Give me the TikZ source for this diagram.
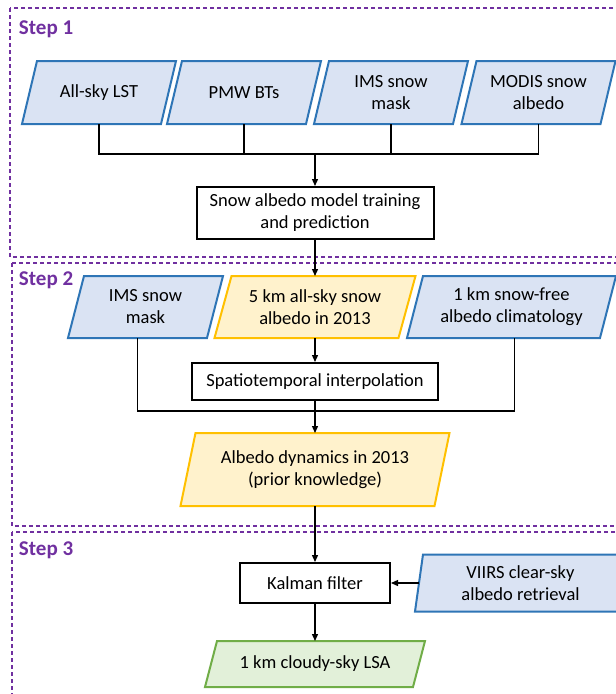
\documentclass[tikz,border=0pt]{standalone}
\usepackage{fontspec}
\setmainfont{Carlito}
\usetikzlibrary{arrows.meta}
\definecolor{stepviolet}{HTML}{7030A0}
\definecolor{inblue}{HTML}{2E75B6}
\definecolor{infill}{HTML}{DAE3F3}
\definecolor{midgold}{HTML}{FFC000}
\definecolor{midfill}{HTML}{FFF2CC}
\definecolor{outgreen}{HTML}{70AD47}
\definecolor{outfill}{HTML}{E2F0D9}
\tikzset{
    every node/.style={font=\fontsize{18.5}{22}\selectfont, align=center,
    	inner sep=0pt, line width=2pt}
}
\tikzset{
    input/.style={draw=inblue, fill=infill, line width=2pt},
    interim/.style={draw=midgold, fill=midfill, line width=2pt},
    result/.style={draw=outgreen, fill=outfill, line width=2pt},
    process/.style={rectangle, draw, line width=2pt, fill=white},
    steplabel/.style={anchor=west, text=stepviolet,
    	font=\fontsize{21}{25}\selectfont\bfseries},
    stepframe/.style={draw=stepviolet, line width=1.5pt, dash pattern=on 4pt off 3pt},
    flow/.style={-{Triangle[length=7pt,width=6pt]}, line width=1.3pt},
    link/.style={line width=1.3pt}
}
\pgfdeclarelayer{background}
\pgfsetlayers{background,main}
% parallelogram behind node #1, style #2, half slant #3
\newcommand{\slantframe}[3]{%
  \filldraw[#2] ([xshift=-#3]#1.south west) -- ([xshift=-#3]#1.south east)
    -- ([xshift=#3]#1.north east) -- ([xshift=#3]#1.north west) -- cycle;}

\begin{document}
\begin{tikzpicture}[x=1pt, y=-1pt]
  \useasboundingbox (0,0) rectangle (616,694);
  \clip (0,0) rectangle (616,694);

  \draw[stepframe] (10,8) rectangle (640,257);
  \draw[stepframe] (12,263) rectangle (640,526);
  \draw[stepframe] (12,532) rectangle (640,720);
  \node (s1) [steplabel] at (18,29) {Step 1};
  \node (s2) [steplabel] at (18,280) {Step 2};
  \node (s3) [steplabel] at (18,550) {Step 3};

  \node (lst) [minimum width=137pt, minimum height=61pt] at (99,92.5) {All-sky LST};
  \node (pmw) [minimum width=137pt, minimum height=61pt] at (244,92.5) {PMW BTs};
  \node (ims1) [minimum width=137pt, minimum height=61pt] at (391,92.5) {IMS snow\\mask};
  \node (modis) [minimum width=137pt, minimum height=61pt] at (538.5,92.5) {MODIS snow\\albedo};
  \node (train) [process, minimum width=237pt, minimum height=52pt] at (315,213) {Snow albedo model training\\and prediction};
  \coordinate (bus1) at (315,154);

  \draw[link] (lst.south) |- (bus1) -| (modis.south);
  \draw[link] (pmw.south) -- (pmw.south |- bus1);
  \draw[link] (ims1.south) -- (ims1.south |- bus1);
  \draw[flow] (bus1) -- (train.north);

  \node (ims2) [minimum width=137pt, minimum height=60pt] at (145.5,307) {IMS snow\\mask};
  \node (snow5) [minimum width=182pt, minimum height=60pt] at (315,307) {5 km all-sky snow\\albedo in 2013};
  \node (free1) [minimum width=191pt, minimum height=60pt] at (511.5,307) {1 km snow-free\\albedo climatology};
  \node (interp) [process, minimum width=246pt, minimum height=37pt] at (315,381.5) {Spatiotemporal interpolation};
  \node (dyn) [minimum width=252pt, minimum height=71pt] at (315,469.5) {Albedo dynamics in 2013\\(prior knowledge)};
  \coordinate (bus2) at (315,411);

  \draw[flow] (train.south) -- (snow5.north);
  \draw[flow] (snow5.south) -- (interp.north);
  \draw[link] ([xshift=-8pt]ims2.south) |- (bus2) -| ([xshift=3pt]free1.south);
  \draw[flow] (interp.south) -- (dyn.north);

  \node (kal) [process, minimum width=150pt, minimum height=40pt] at (315,583) {Kalman filter};
  \node (viirs) [minimum width=201pt, minimum height=55pt] at (520.5,583) {VIIRS clear-sky\\albedo retrieval};
  \node (lsa) [minimum width=206pt, minimum height=44pt] at (315,664) {1 km cloudy-sky LSA};

  \draw[flow] (dyn.south) -- (kal.north);
  \draw[flow] (viirs.west) -- (kal.east);
  \draw[flow] (kal.south) -- (lsa.north);

  \begin{pgfonlayer}{background}
    \slantframe{lst}{input}{7.5pt}
    \slantframe{pmw}{input}{7.5pt}
    \slantframe{ims1}{input}{7.5pt}
    \slantframe{modis}{input}{7.5pt}
    \slantframe{ims2}{input}{8pt}
    \slantframe{snow5}{interim}{8.5pt}
    \slantframe{free1}{input}{8pt}
    \slantframe{dyn}{interim}{7.5pt}
    \slantframe{viirs}{input}{4pt}
    \slantframe{lsa}{result}{6pt}
  \end{pgfonlayer}
\end{tikzpicture}
\end{document}
